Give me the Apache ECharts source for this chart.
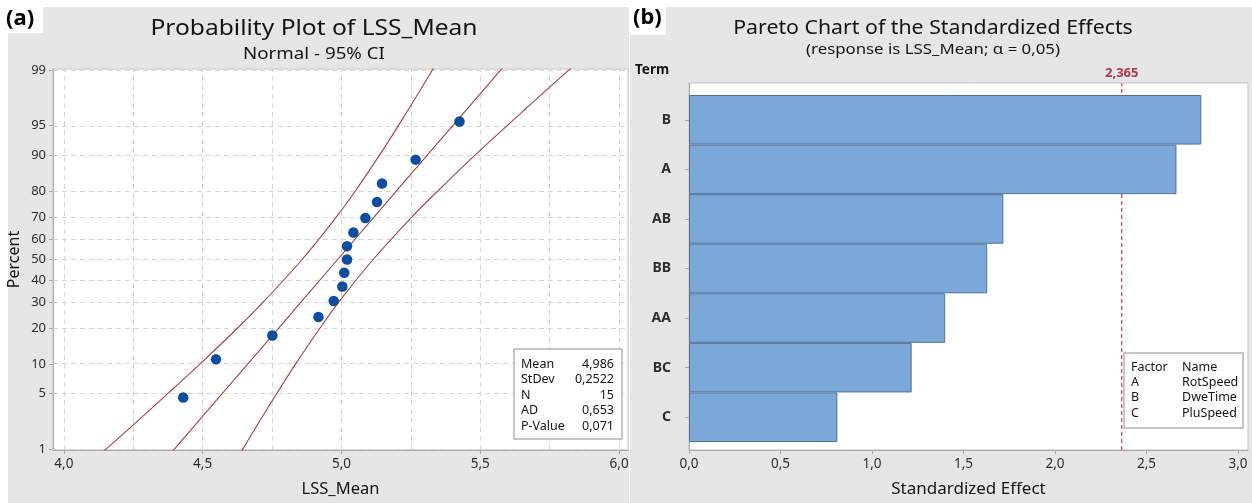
<!DOCTYPE html>
<html>
<head>
<meta charset="utf-8">
<script src="https://cdn.jsdelivr.net/npm/echarts@6/dist/echarts.min.js"></script>
<style>
html,body{margin:0;padding:0;background:#fff;}
#chart{width:1252px;height:503px;}
</style>
</head>
<body>
<div id="chart"></div>
<script>
// ---------- data: probability plot (a) ----------
const pctTicks = [1, 5, 10, 20, 30, 40, 50, 60, 70, 80, 90, 95, 99];
const xLabelTicks = [4.0, 4.5, 5.0, 5.5, 6.0];
const xGridLines = [4.0, 4.25, 4.5, 4.75, 5.0, 5.25, 5.5, 5.75, 6.0];
const lssValues = [4.430, 4.548, 4.751, 4.917, 4.972, 5.003, 5.010, 5.020, 5.020, 5.043, 5.086, 5.128, 5.146, 5.267, 5.425];
const lssPercents = [4.5, 11.0, 17.5, 24.0, 30.5, 37.0, 43.5, 50.0, 56.5, 63.0, 69.5, 76.0, 82.5, 89.0, 95.5];
const lineLevels = [0.5, 1, 2, 5, 10, 20, 30, 50, 70, 80, 90, 95, 98, 99, 99.5];
const fitX   = [4.336, 4.399, 4.468, 4.571, 4.663, 4.774, 4.854, 4.986, 5.118, 5.198, 5.309, 5.401, 5.504, 5.573, 5.636];
const lowerX = [4.071, 4.153, 4.243, 4.375, 4.491, 4.626, 4.718, 4.858, 4.982, 5.050, 5.137, 5.205, 5.279, 5.327, 5.371];
const upperX = [4.601, 4.645, 4.693, 4.767, 4.835, 4.923, 4.990, 5.114, 5.254, 5.347, 5.481, 5.597, 5.729, 5.819, 5.901];
const statLabels = ['Mean', 'StDev', 'N', 'AD', 'P-Value'];
const statValues = ['4,986', '0,2522', '15', '0,653', '0,071'];

// ---------- data: pareto chart (b) ----------
const terms = ['B', 'A', 'AB', 'BB', 'AA', 'BC', 'C'];
const effects = [2.80, 2.664, 1.718, 1.630, 1.400, 1.217, 0.811];
const threshold = 2.365;
const effectTicks = [0, 0.5, 1.0, 1.5, 2.0, 2.5, 3.0];
const factorCodes = ['A', 'B', 'C'];
const factorNames = ['RotSpeed', 'DweTime', 'PluSpeed'];

// ---------- normal quantile (probability axis transform) ----------
function probit(p) {
  const a = [-3.969683028665376e+01, 2.209460984245205e+02, -2.759285104469687e+02, 1.383577518672690e+02, -3.066479806614716e+01, 2.506628277459239e+00];
  const b = [-5.447609879822406e+01, 1.615858368580409e+02, -1.556989798598866e+02, 6.680131188771972e+01, -1.328068155288572e+01];
  const c = [-7.784894002430293e-03, -3.223964580411365e-01, -2.400758277161838e+00, -2.549671660464340e+00, 4.374664141464968e+00, 2.938163982698783e+00];
  const d = [7.784695709041462e-03, 3.224671290700398e-01, 2.445134137142996e+00, 3.754408661907416e+00];
  const pl = 0.02425, ph = 1 - pl;
  let q, r;
  if (p < pl) {
    q = Math.sqrt(-2 * Math.log(p));
    return (((((c[0]*q+c[1])*q+c[2])*q+c[3])*q+c[4])*q+c[5]) / ((((d[0]*q+d[1])*q+d[2])*q+d[3])*q+1);
  } else if (p <= ph) {
    q = p - 0.5; r = q * q;
    return (((((a[0]*r+a[1])*r+a[2])*r+a[3])*r+a[4])*r+a[5])*q / (((((b[0]*r+b[1])*r+b[2])*r+b[3])*r+b[4])*r+1);
  } else {
    q = Math.sqrt(-2 * Math.log(1 - p));
    return -(((((c[0]*q+c[1])*q+c[2])*q+c[3])*q+c[4])*q+c[5]) / ((((d[0]*q+d[1])*q+d[2])*q+d[3])*q+1);
  }
}
const zOf = p => probit(p / 100);
const zTicks = pctTicks.map(zOf);
const comma1 = v => v.toFixed(1).replace('.', ',');

const FONT = 'Noto Sans';
const TXT = '#141414';
const LBL = '#2e2e2e';
const GRIDC = '#d6d6d6';
const AXC = '#a8a8a8';
const RED = '#a8403f';
const f = (size, w) => (w ? w + ' ' : '') + size + 'px "' + FONT + '"';

const chart = echarts.init(document.getElementById('chart'), null, {renderer: 'canvas'});

const graphics = [
  // panel backgrounds
  {type: 'rect', z: -10, silent: true, shape: {x: 8, y: 7, width: 621, height: 496}, style: {fill: '#e6e6e6'}},
  {type: 'rect', z: -10, silent: true, shape: {x: 630, y: 7, width: 622, height: 496}, style: {fill: '#e6e6e6'}},
  {type: 'rect', z: -9, silent: true, shape: {x: 0, y: 0, width: 43, height: 33}, style: {fill: '#ffffff'}},
  {type: 'rect', z: -9, silent: true, shape: {x: 630, y: 0, width: 36, height: 35}, style: {fill: '#ffffff'}},
  {type: 'text', z: 100, x: 6, y: 19, style: {text: '(a)', font: f(22, 'bold'), fill: '#000', verticalAlign: 'middle'}},
  {type: 'text', z: 100, x: 633, y: 18, style: {text: '(b)', font: f(22, 'bold'), fill: '#000', verticalAlign: 'middle'}},
  // titles
  {type: 'text', z: 100, x: 314, y: 29, scaleX: 1.17, style: {text: 'Probability Plot of LSS_Mean', font: f(21), fill: TXT, align: 'center', verticalAlign: 'middle'}},
  {type: 'text', z: 100, x: 314, y: 54, scaleX: 1.17, style: {text: 'Normal - 95% CI', font: f(16), fill: TXT, align: 'center', verticalAlign: 'middle'}},
  {type: 'text', z: 100, x: 933, y: 29, scaleX: 1.12, style: {text: 'Pareto Chart of the Standardized Effects', font: f(19), fill: TXT, align: 'center', verticalAlign: 'middle'}},
  {type: 'text', z: 100, x: 933, y: 50, scaleX: 1.12, style: {text: '(response is LSS_Mean; \u03b1 = 0,05)', font: f(15), fill: TXT, align: 'center', verticalAlign: 'middle'}},
  {type: 'text', z: 100, x: 635, y: 70, style: {text: 'Term', font: f(13.5, 'bold'), fill: TXT, verticalAlign: 'middle'}},
  // stats box (a)
  {type: 'rect', z: 50, silent: true, shape: {x: 514, y: 349, width: 108, height: 90}, style: {fill: '#fff', stroke: '#b4b4b4', lineWidth: 1.5}}
];
statLabels.forEach((s, i) => {
  graphics.push({type: 'text', z: 100, x: 521, y: 364 + i * 15.5, style: {text: s, font: f(12.5), fill: TXT, verticalAlign: 'middle'}});
  graphics.push({type: 'text', z: 100, x: 614, y: 364 + i * 15.5, style: {text: statValues[i], font: f(12.5), fill: TXT, align: 'right', verticalAlign: 'middle'}});
});
// factor box (b)
graphics.push({type: 'rect', z: 50, silent: true, shape: {x: 1124, y: 353, width: 119, height: 75}, style: {fill: '#fff', stroke: '#b4b4b4', lineWidth: 1.5}});
graphics.push({type: 'text', z: 100, x: 1131, y: 367, style: {text: 'Factor', font: f(12.5), fill: TXT, verticalAlign: 'middle'}});
graphics.push({type: 'text', z: 100, x: 1182, y: 367, style: {text: 'Name', font: f(12.5), fill: TXT, verticalAlign: 'middle'}});
factorCodes.forEach((c, i) => {
  graphics.push({type: 'text', z: 100, x: 1131, y: 382.5 + i * 15.3, style: {text: c, font: f(12.5), fill: TXT, verticalAlign: 'middle'}});
  graphics.push({type: 'text', z: 100, x: 1182, y: 382.5 + i * 15.3, style: {text: factorNames[i], font: f(12.5), fill: TXT, verticalAlign: 'middle'}});
});

const gridMarkData = xGridLines.map(v => ({xAxis: v})).concat(zTicks.map(z => ({yAxis: z})));

const option = {
  animation: false,
  textStyle: {fontFamily: FONT},
  graphic: graphics,
  grid: [
    {left: 53, top: 69, width: 575, height: 386, show: true, backgroundColor: '#fff', borderColor: '#c4c4c4', borderWidth: 1},
    {left: 689, right: 4, top: 95, bottom: 61, show: false},
    {left: 689, right: 4, top: 83, bottom: 50, show: true, backgroundColor: '#fff', borderColor: '#c4c4c4', borderWidth: 1}
  ],
  xAxis: [
    {
      gridIndex: 0, type: 'value', min: 3.961, max: 6.032,
      name: 'LSS_Mean', nameLocation: 'middle', nameGap: 31,
      nameTextStyle: {fontSize: 16.5, color: TXT, fontFamily: FONT},
      axisLine: {show: true, onZero: false, lineStyle: {color: AXC}},
      axisTick: {show: true, length: 4, customValues: xLabelTicks, lineStyle: {color: AXC}},
      axisLabel: {customValues: xLabelTicks, formatter: v => comma1(v), fontSize: 13.5, color: LBL, margin: 7},
      splitLine: {show: false}
    },
    {gridIndex: 1, type: 'value', min: 0, max: 3.055, show: false},
    {
      gridIndex: 2, type: 'value', min: 0, max: 3.055,
      name: 'Standardized Effect', nameLocation: 'middle', nameGap: 31,
      nameTextStyle: {fontSize: 17, color: TXT, fontFamily: FONT},
      axisLine: {show: true, onZero: false, lineStyle: {color: AXC}},
      axisTick: {show: true, length: 4, customValues: effectTicks, lineStyle: {color: AXC}},
      axisLabel: {customValues: effectTicks, formatter: v => comma1(v), fontSize: 13.5, color: LBL, margin: 7},
      splitLine: {show: false}
    }
  ],
  yAxis: [
    {
      gridIndex: 0, type: 'value', min: -2.34, max: 2.34,
      name: 'Percent', nameLocation: 'middle', nameGap: 31, nameRotate: 90,
      nameTextStyle: {fontSize: 16, color: TXT, fontFamily: FONT},
      axisLine: {show: true, onZero: false, lineStyle: {color: AXC}},
      axisTick: {show: true, length: 4, customValues: zTicks, lineStyle: {color: AXC}},
      axisLabel: {
        customValues: zTicks, fontSize: 13, color: LBL, margin: 7,
        formatter: v => {
          let best = 0;
          zTicks.forEach((z, i) => { if (Math.abs(z - v) < Math.abs(zTicks[best] - v)) best = i; });
          return String(pctTicks[best]);
        }
      },
      splitLine: {show: false}
    },
    {
      gridIndex: 1, type: 'category', data: terms, inverse: true,
      axisLine: {show: false},
      axisTick: {show: true, alignWithLabel: true, length: 4, lineStyle: {color: AXC}},
      axisLabel: {fontSize: 14, fontWeight: 'bold', color: LBL, margin: 18}
    },
    {
      gridIndex: 2, type: 'value', min: 0, max: 1,
      axisLine: {show: true, onZero: false, lineStyle: {color: AXC}},
      axisTick: {show: false}, axisLabel: {show: false}, splitLine: {show: false}
    }
  ],
  series: [
    {
      name: 'gridlines', type: 'line', xAxisIndex: 0, yAxisIndex: 0, data: [], z: 1, silent: true,
      markLine: {
        silent: true, z: 1, symbol: ['none', 'none'], label: {show: false},
        lineStyle: {type: [5, 4], color: GRIDC, width: 1},
        emphasis: {disabled: true},
        data: gridMarkData
      }
    },
    {
      name: 'lower', type: 'line', xAxisIndex: 0, yAxisIndex: 0, z: 3, silent: true, smooth: 0.3,
      showSymbol: false, symbol: 'none', lineStyle: {color: RED, width: 1.1},
      data: lineLevels.map((p, i) => [lowerX[i], zOf(p)])
    },
    {
      name: 'fit', type: 'line', xAxisIndex: 0, yAxisIndex: 0, z: 3, silent: true,
      showSymbol: false, symbol: 'none', lineStyle: {color: RED, width: 1.1},
      data: lineLevels.map((p, i) => [fitX[i], zOf(p)])
    },
    {
      name: 'upper', type: 'line', xAxisIndex: 0, yAxisIndex: 0, z: 3, silent: true, smooth: 0.3,
      showSymbol: false, symbol: 'none', lineStyle: {color: RED, width: 1.1},
      data: lineLevels.map((p, i) => [upperX[i], zOf(p)])
    },
    {
      name: 'LSS_Mean', type: 'scatter', xAxisIndex: 0, yAxisIndex: 0, z: 6,
      symbol: 'circle', symbolSize: 10.5, itemStyle: {color: '#0a4ea2', opacity: 1},
      data: lssValues.map((v, i) => [v, zOf(lssPercents[i])])
    },
    {
      name: 'threshold', type: 'line', xAxisIndex: 2, yAxisIndex: 2, z: 1, silent: true,
      showSymbol: true, symbol: 'circle', symbolSize: 1,
      itemStyle: {color: 'rgba(0,0,0,0)', borderWidth: 0},
      lineStyle: {color: '#cc3d4e', width: 1.2, type: [4, 3]},
      label: {show: false},
      data: [
        [threshold, 0],
        {value: [threshold, 1], label: {show: true, position: 'top', distance: 3, formatter: () => String(threshold).replace('.', ','), color: '#a8384a', fontSize: 13, fontWeight: 'bold'}}
      ]
    },
    {
      name: 'effects', type: 'bar', xAxisIndex: 1, yAxisIndex: 1, z: 2,
      barCategoryGap: '0%',
      itemStyle: {color: '#7ba7d9', borderColor: '#52729a', borderWidth: 1},
      data: effects
    }
  ]
};
chart.setOption(option);
</script>
</body>
</html>
